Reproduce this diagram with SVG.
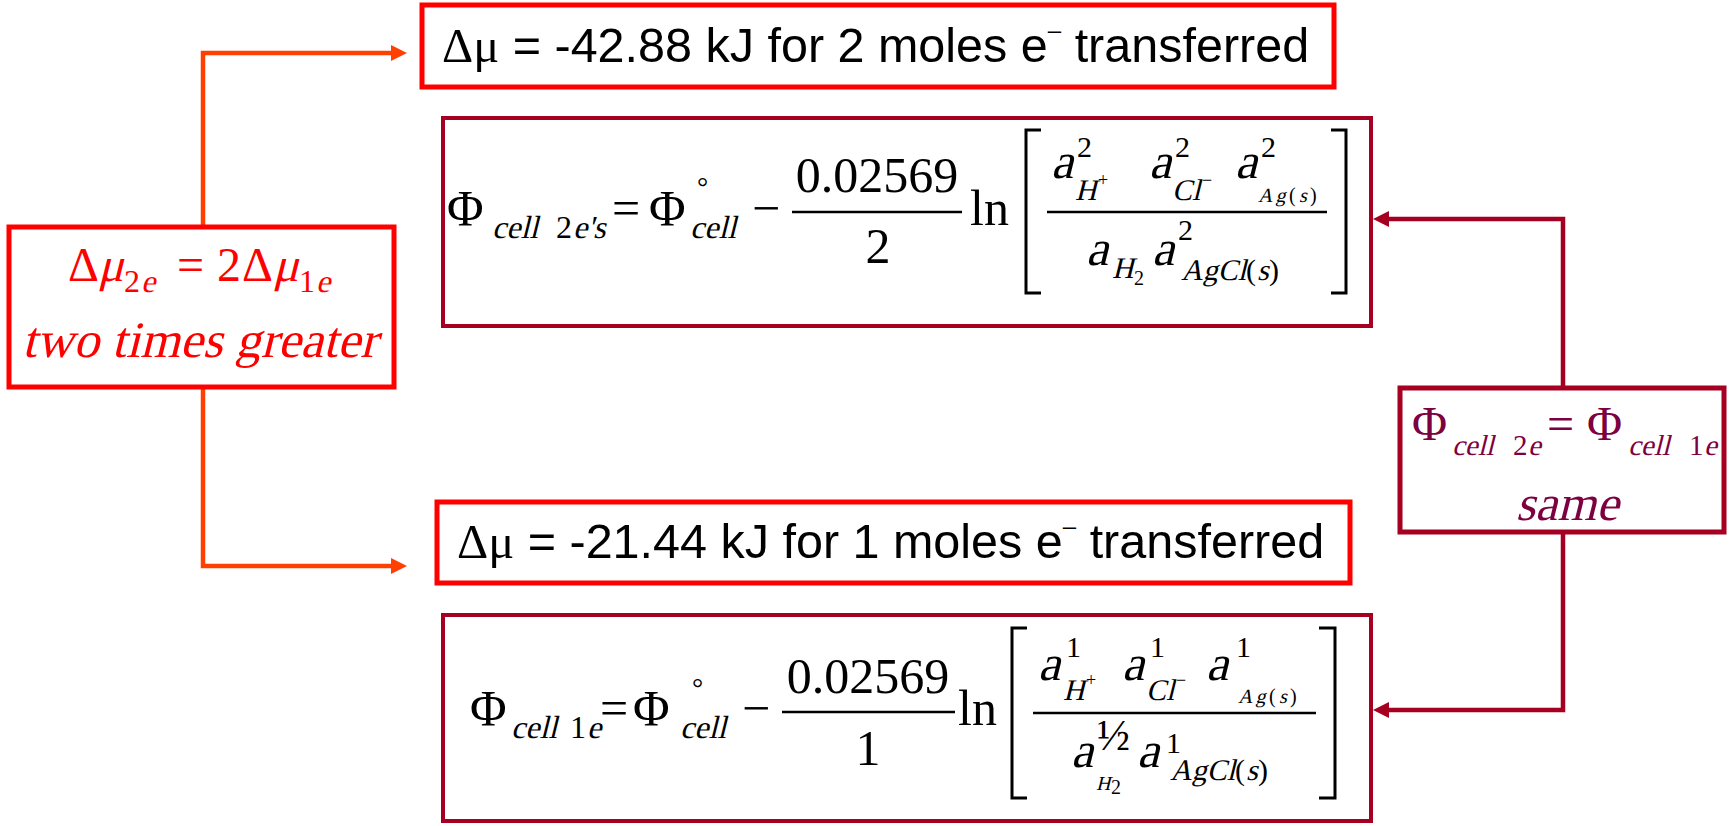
<svg xmlns="http://www.w3.org/2000/svg" width="1729" height="826" viewBox="0 0 1729 826">
<style>
.sans{font-family:"Liberation Sans",Arial,sans-serif}
.ser{font-family:"Liberation Serif","Times New Roman",serif}
.red{fill:#FF0000}
.plum{fill:#7D0040}
.blk{fill:#000}
.bx{fill:none}
.bar{stroke:#000;stroke-width:2.5}
.brk{fill:none;stroke:#000;stroke-width:3}
.m{font-size:50px}
.s{font-size:30px}
.ss{font-size:20px}
.sb{font-size:32px}
</style>
<defs>
<marker id="ao" markerUnits="userSpaceOnUse" markerWidth="18" markerHeight="18" refX="6" refY="8" orient="auto"><path d="M0,0 L16,8 L0,16 z" fill="#FF4000"/></marker>
<marker id="ad" markerUnits="userSpaceOnUse" markerWidth="18" markerHeight="18" refX="6" refY="8" orient="auto"><path d="M0,0 L16,8 L0,16 z" fill="#A50021"/></marker>
</defs>
<rect width="1729" height="826" fill="#fff"/>

<g id="connectors" fill="none">
<path d="M203,227 V53 H397" stroke="#FF4000" stroke-width="4.5" marker-end="url(#ao)"/>
<path d="M203,387 V566 H397" stroke="#FF4000" stroke-width="4.5" marker-end="url(#ao)"/>
<path d="M1563,388 V219 H1383" stroke="#A50021" stroke-width="4.5" marker-end="url(#ad)"/>
<path d="M1563,532 V710 H1383" stroke="#A50021" stroke-width="4.5" marker-end="url(#ad)"/>
</g>

<g id="mu2e">
<rect x="422" y="5" width="912" height="82" class="bx" stroke="#FF0000" stroke-width="5"/>
<text x="442" y="62" class="sans blk" font-size="48.5"><tspan class="ser">Δμ</tspan> = -42.88 kJ for 2 moles e<tspan font-size="24" dy="-24">–</tspan><tspan dy="24"> transferred</tspan></text>
</g>

<g id="mu1e">
<rect x="437" y="502" width="913" height="81" class="bx" stroke="#FF0000" stroke-width="5"/>
<text x="457" y="558" class="sans blk" font-size="48.5"><tspan class="ser">Δμ</tspan> = -21.44 kJ for 1 moles e<tspan font-size="24" dy="-24">–</tspan><tspan dy="24"> transferred</tspan></text>
</g>

<g id="muRatio" class="ser red">
<rect x="9" y="227" width="385" height="160" class="bx" stroke="#FF0000" stroke-width="5"/>
<text x="68" y="281" font-size="48">Δ</text>
<text transform="translate(98,281) skewX(-14)" font-size="48">μ</text>
<text x="124" y="292" font-size="32">2</text>
<text transform="translate(141,292) skewX(-14)" font-size="32">e</text>
<text x="177" y="281" font-size="48">=</text>
<text x="217" y="281" font-size="48">2</text>
<text x="242" y="281" font-size="48">Δ</text>
<text transform="translate(273,281) skewX(-14)" font-size="48">μ</text>
<text x="299" y="292" font-size="32">1</text>
<text transform="translate(316,292) skewX(-14)" font-size="32">e</text>
<text transform="translate(22,357) skewX(-14)" font-size="51" textLength="355" lengthAdjust="spacingAndGlyphs">two times greater</text>
</g>

<g id="phi2e" class="ser blk">
<rect x="443" y="118" width="928" height="208" class="bx" stroke="#A50021" stroke-width="4"/>
<text x="447" y="225" class="m">Φ</text>
<text transform="translate(492,238) skewX(-14)" class="sb">cell</text>
<text x="556" y="238" class="sb">2</text>
<text transform="translate(573,238) skewX(-14)" class="sb">e's</text>
<text x="612" y="225" class="m">=</text>
<text x="649" y="225" class="m">Φ</text>
<text x="697" y="196" font-size="28">°</text>
<text transform="translate(690,238) skewX(-14)" class="sb">cell</text>
<text x="752" y="225" class="m">−</text>
<line x1="792" y1="212" x2="962" y2="212" class="bar"/>
<text x="877" y="192" class="m" text-anchor="middle">0.02569</text>
<text x="878" y="263" class="m" text-anchor="middle">2</text>
<text x="970" y="225" class="m">ln</text>
<path d="M1041,130 H1026 V293 H1041" class="brk"/>
<path d="M1331,130 H1346 V293 H1331" class="brk"/>
<line x1="1047" y1="212" x2="1327" y2="212" class="bar"/>
<text transform="translate(1051,178) skewX(-14)" class="m">a</text>
<text x="1077" y="157" class="s">2</text>
<text transform="translate(1075,200) skewX(-14)" class="s">H</text>
<text x="1098" y="186" font-size="18">+</text>
<text transform="translate(1149,178) skewX(-14)" class="m">a</text>
<text x="1175" y="157" class="s">2</text>
<text transform="translate(1172,200) skewX(-14)" class="s">Cl</text>
<text x="1202" y="186" font-size="18">−</text>
<text transform="translate(1235,178) skewX(-14)" class="m">a</text>
<text x="1261" y="157" class="s">2</text>
<text transform="translate(1258,202) skewX(-14)" class="ss" letter-spacing="3">Ag</text>
<text x="1289" y="202" class="ss">(</text>
<text transform="translate(1299,202) skewX(-14)" class="ss">s</text>
<text x="1310" y="202" class="ss">)</text>
<text transform="translate(1086,265) skewX(-14)" class="m">a</text>
<text transform="translate(1112,278) skewX(-14)" class="s">H</text>
<text x="1134" y="285" class="ss">2</text>
<text transform="translate(1152,265) skewX(-14)" class="m">a</text>
<text x="1178" y="240" class="s">2</text>
<text transform="translate(1181,280) skewX(-14)" class="s">AgCl</text>
<text x="1246" y="280" class="s">(</text>
<text transform="translate(1257,280) skewX(-14)" class="s">s</text>
<text x="1269" y="280" class="s">)</text>
</g>

<g id="phi1e" class="ser blk">
<rect x="443" y="615" width="928" height="206" class="bx" stroke="#A50021" stroke-width="4"/>
<text x="470" y="725" class="m">Φ</text>
<text transform="translate(511,738) skewX(-14)" class="sb">cell</text>
<text x="570" y="738" class="sb">1</text>
<text transform="translate(587,738) skewX(-14)" class="sb">e</text>
<text x="600" y="725" class="m">=</text>
<text x="633" y="725" class="m">Φ</text>
<text x="692" y="697" font-size="28">°</text>
<text transform="translate(680,738) skewX(-14)" class="sb">cell</text>
<text x="742" y="725" class="m">−</text>
<line x1="782" y1="712" x2="955" y2="712" class="bar"/>
<text x="868" y="693" class="m" text-anchor="middle">0.02569</text>
<text x="868" y="765" class="m" text-anchor="middle">1</text>
<text x="958" y="725" class="m">ln</text>
<path d="M1027,628 H1012 V798 H1027" class="brk"/>
<path d="M1319,628 H1335 V798 H1319" class="brk"/>
<line x1="1033" y1="713" x2="1316" y2="713" class="bar"/>
<text transform="translate(1038,680) skewX(-14)" class="m">a</text>
<text x="1066" y="657" class="s">1</text>
<text transform="translate(1063,700) skewX(-14)" class="s">H</text>
<text x="1086" y="686" font-size="18">+</text>
<text transform="translate(1122,680) skewX(-14)" class="m">a</text>
<text x="1150" y="657" class="s">1</text>
<text transform="translate(1146,700) skewX(-14)" class="s">Cl</text>
<text x="1176" y="686" font-size="18">−</text>
<text transform="translate(1206,680) skewX(-14)" class="m">a</text>
<text x="1236" y="657" class="s">1</text>
<text transform="translate(1238,703) skewX(-14)" class="ss" letter-spacing="3">Ag</text>
<text x="1269" y="703" class="ss">(</text>
<text transform="translate(1279,703) skewX(-14)" class="ss">s</text>
<text x="1290" y="703" class="ss">)</text>
<text transform="translate(1071,767) skewX(-14)" class="m">a</text>
<text x="1097" y="750" font-size="44">½</text>
<text transform="translate(1096,790) skewX(-14)" class="ss">H</text>
<text x="1111" y="794" class="ss">2</text>
<text transform="translate(1137,767) skewX(-14)" class="m">a</text>
<text x="1166" y="753" class="s">1</text>
<text transform="translate(1170,780) skewX(-14)" class="s">AgCl</text>
<text x="1235" y="780" class="s">(</text>
<text transform="translate(1246,780) skewX(-14)" class="s">s</text>
<text x="1258" y="780" class="s">)</text>
</g>

<g id="phiSame" class="ser plum">
<rect x="1400" y="388" width="324" height="144" class="bx" stroke="#A50021" stroke-width="5"/>
<text x="1412" y="440" font-size="48">Φ</text>
<text transform="translate(1452,455) skewX(-14)" font-size="29">cell</text>
<text x="1513" y="455" font-size="29">2</text>
<text transform="translate(1528,455) skewX(-14)" font-size="29">e</text>
<text x="1547" y="440" font-size="48">=</text>
<text x="1587" y="440" font-size="48">Φ</text>
<text transform="translate(1628,455) skewX(-14)" font-size="29">cell</text>
<text x="1689" y="455" font-size="29">1</text>
<text transform="translate(1704,455) skewX(-14)" font-size="29">e</text>
<text transform="translate(1567,520) skewX(-14)" font-size="50" text-anchor="middle">same</text>
</g>
</svg>
